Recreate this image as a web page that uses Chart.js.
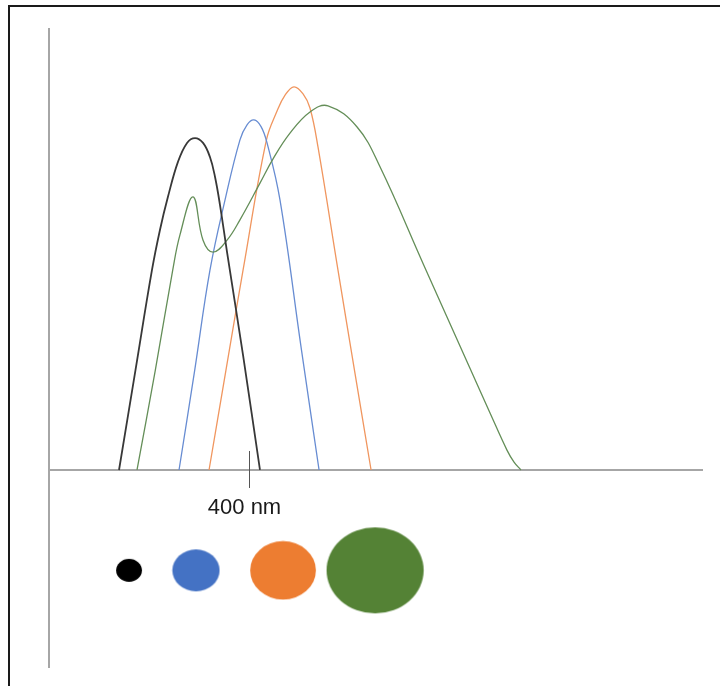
<!DOCTYPE html>
<html>
<head>
<meta charset="UTF-8">
<title>Spectra</title>
<script src="https://cdn.jsdelivr.net/npm/chart.js"></script>
<style>
  html, body { margin: 0; padding: 0; background: #fff; }
  #wrap { position: relative; width: 720px; height: 686px; overflow: hidden; }
  #frame { position: absolute; left: 8px; top: 5px; right: -5px; bottom: -5px;
           border-top: 2px solid #1a1a1a; border-left: 2px solid #1a1a1a; }
  canvas { position: absolute; left: 0; top: 0; }
</style>
</head>
<body>
<div id="wrap">
  <div id="frame"></div>
  <canvas id="spec" width="720" height="686"></canvas>
</div>
<script>
// --- data (wavelength in nm, relative intensity) ---
const blackNm  = [315.5, 326.2, 336.9, 342.1, 347.3, 353.8, 359.7, 364.9, 370.1, 374.6, 377.9, 381.1, 385.7, 396.1, 407.1];
const blackVal = [0, 22.6, 45.2, 54.3, 61.8, 69.7, 74.0, 75.1, 74.0, 70.8, 66.3, 60.0, 49.3, 26.0, 0];

const blueNm  = [354.5, 364.7, 374.6, 384.4, 394.1, 398.7, 403.2, 407.8, 411.7, 420.1, 433.8, 445.5];
const blueVal = [0, 22.6, 45.2, 61.1, 74.7, 78.1, 79.2, 77.7, 74.0, 61.1, 27.8, 0];

const orangeNm  = [374, 385, 396.1, 411.3, 418.2, 423.4, 429.2, 435.1, 439.6, 444.8, 457.8, 468.5, 479.3];
const orangeVal = [0, 22.6, 45.2, 74.7, 81.2, 84.8, 86.7, 85.1, 81.9, 73.1, 45.2, 22.6, 0];

const greenNm  = [327.2, 339.1, 350.4, 355.1, 363.6, 370.1, 376.6, 385.7, 394.1, 407.1, 415.6, 426.6,
                  439.6, 451.3, 470.2, 485.1, 513.5, 543.2, 556.6, 567.6, 572.2, 576.7];
const greenVal = [0, 22.6, 45.2, 53.2, 61.8, 52.0, 49.3, 52.0, 56.6, 64.9, 70.4, 76.2,
                  81.0, 82.4, 77.6, 68.6, 46.4, 23.3, 12.9, 4.5, 1.8, 0];

// dots under the axis
const dotNm     = [322, 365.5, 422.1, 481.9];
const dotLevel  = [-22.7, -22.7, -22.7, -22.7];
const dotRadius = [12.2, 22.3, 31, 45.8];
const dotColors = ['#000000', '#4472c4', '#ed7d31', '#548235'];

const tickValues = [400];
const tickLabels = ['400 nm'];

const X_MIN = 270, X_MAX = 695;
const Y_MIN = -44.8, Y_MAX = 100;

const pts = (xs, ys) => xs.map((v, i) => ({ x: v, y: ys[i] }));

function curve(label, xs, ys, color, width) {
    return {
        type: 'scatter', label: label, data: pts(xs, ys),
        showLine: true, borderColor: color, borderWidth: width,
        pointRadius: 0, tension: 0.4, fill: false
    };
}

// slightly flattened discs like the original
function ellipseStyle(ctx) {
    const r = ctx.raw ? ctx.raw.r : 5;
    const c = document.createElement('canvas');
    c.width = Math.round(r * 2.12) + 2;
    c.height = Math.round(r * 1.88) + 2;
    const g = c.getContext('2d');
    g.fillStyle = dotColors[ctx.dataIndex];
    g.beginPath();
    g.ellipse(c.width / 2, c.height / 2, r * 1.06, r * 0.94, 0, 0, Math.PI * 2);
    g.fill();
    return c;
}

const axesPlugin = {
    id: 'axes',
    beforeDatasetsDraw(chart) {
        const { ctx, scales: { x, y } } = chart;
        const y0 = y.getPixelForValue(0);
        const xl = x.getPixelForValue(X_MIN);
        ctx.save();
        ctx.strokeStyle = '#a6a6a6';
        ctx.lineWidth = 2;
        ctx.beginPath();
        ctx.moveTo(xl, y.top); ctx.lineTo(xl, y.bottom);
        ctx.moveTo(xl, y0); ctx.lineTo(x.right, y0);
        ctx.stroke();
        tickValues.forEach((v, i) => {
            const px = Math.round(x.getPixelForValue(v)) + 0.5;
            ctx.strokeStyle = '#555';
            ctx.lineWidth = 1;
            ctx.beginPath();
            ctx.moveTo(px, y0 - 19); ctx.lineTo(px, y0 + 18);
            ctx.stroke();
            ctx.fillStyle = '#1a1a1a';
            ctx.font = '22px "Liberation Sans", Arial, sans-serif';
            ctx.textAlign = 'center';
            ctx.textBaseline = 'middle';
            ctx.fillText(tickLabels[i], px - 5, y0 + 38);
        });
        ctx.restore();
    }
};

new Chart(document.getElementById('spec'), {
    type: 'scatter',
    data: {
        datasets: [
            curve('black', blackNm, blackVal, '#383838', 1.8),
            curve('green', greenNm, greenVal, '#648e58', 1.3),
            curve('blue', blueNm, blueVal, '#678cd2', 1.3),
            curve('orange', orangeNm, orangeVal, '#f0965f', 1.3),
            {
                type: 'bubble', label: 'dots',
                data: dotNm.map((v, i) => ({ x: v, y: dotLevel[i], r: dotRadius[i] })),
                backgroundColor: dotColors, borderWidth: 0,
                pointStyle: ellipseStyle
            }
        ]
    },
    options: {
        responsive: false,
        animation: false,
        devicePixelRatio: 1,
        layout: { autoPadding: false, padding: { left: 49, top: 28, right: 17, bottom: 18 } },
        scales: {
            x: { type: 'linear', min: X_MIN, max: X_MAX, display: false },
            y: { type: 'linear', min: Y_MIN, max: Y_MAX, display: false }
        },
        plugins: { legend: { display: false }, tooltip: { enabled: false } },
        events: []
    },
    plugins: [axesPlugin]
});
</script>
</body>
</html>
